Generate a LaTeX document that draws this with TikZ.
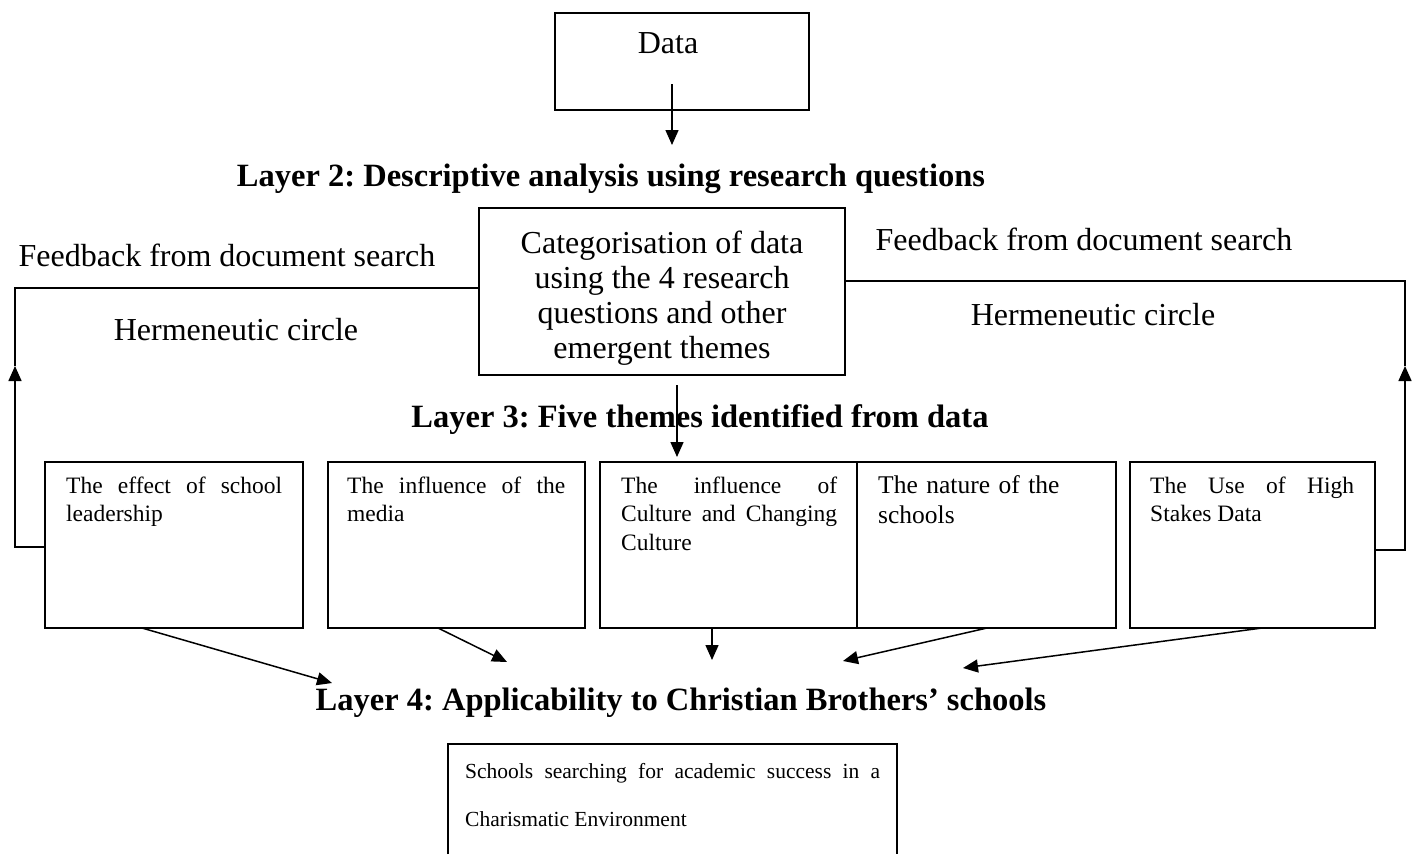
\documentclass[tikz,border=0pt]{standalone}
\usepackage{fontspec}
\setmainfont{Liberation Serif}
\usetikzlibrary{arrows.meta}
\frenchspacing
\hyphenpenalty=10000
\exhyphenpenalty=10000
\tolerance=10000
\begin{document}
\begin{tikzpicture}[x=1pt,y=-1pt,
  ln/.style={line width=1.5pt},
  box/.style={draw, line width=1.5pt, inner sep=0pt, outer sep=0pt, anchor=north west},
  big/.style={font=\fontsize{32}{36}\selectfont, inner sep=0pt, anchor=base},
  layer/.style={font=\bfseries\fontsize{32.5}{36}\selectfont, inner sep=0pt, anchor=base},
  theme/.style={font=\fontsize{23.5}{28.5}\selectfont, inner sep=0pt, anchor=base west, align=justify},
  arr/.style={line width=1.5pt, -{Triangle[length=15pt,width=13pt]}}]
\useasboundingbox (0,0) rectangle (1415,854);

% top box
\node[box, minimum width=254pt, minimum height=97pt] (data) at (555,13) {};
\node[big] (datatxt) at (668,53) {Data};
\coordinate (d0) at (672,84);
\coordinate (d1) at (672,145);
\draw[arr] (d0) -- (d1);

\node[layer] (l2) at (611,186) {Layer 2: Descriptive analysis using research questions};

% middle box
\node[box, minimum width=366pt, minimum height=167pt] (mid) at (479,208) {};
\node[big, anchor=center, align=center, font=\fontsize{32}{35}\selectfont] (midtxt) at (662,298) {Categorisation of data\\using the 4 research\\questions and other\\emergent themes};

\node[big] (fbl) at (227,266) {Feedback from document search};
\node[big] (fbr) at (1084,250) {Feedback from document search};
\node[big] (hcl) at (236,340) {Hermeneutic circle};
\node[big] (hcr) at (1093,325) {Hermeneutic circle};

\node[layer] (l3) at (700,427) {Layer 3: Five themes identified from data};
\coordinate (m0) at (677,385);
\coordinate (m1) at (677,457);
\draw[arr] (m0) -- (m1);

% theme boxes
\node[box, minimum width=258pt, minimum height=166pt] (t1) at (45,462) {};
\node[box, minimum width=257pt, minimum height=166pt] (t2) at (328,462) {};
\node[box, minimum width=257pt, minimum height=166pt] (t3) at (600,462) {};
\node[box, minimum width=259pt, minimum height=166pt] (t4) at (857,462) {};
\node[box, minimum width=245pt, minimum height=166pt] (t5) at (1130,462) {};

\node[theme, text width=216pt] (t1txt) at (66,493) {The effect of school leadership};
\node[theme, text width=218pt] (t2txt) at (347,493) {The influence of the media};
\node[theme, text width=216pt] (t3txt) at (621,493) {The influence of Culture and Changing Culture};
\node[theme, text width=225pt, align=left, font=\fontsize{25.5}{30.5}\selectfont] (t4txt) at (878,493) {The nature of the schools};
\node[theme, text width=204pt] (t5txt) at (1150,493) {The Use of High Stakes Data};

% feedback loops
\coordinate (lb) at (15,288);
\coordinate (lc) at (15,366);
\coordinate (ld) at (15,547);
\draw[arr] (t1.west |- ld) -- (ld) -- (lc);
\draw[ln] (lc) -- (lb) -- (mid.west |- lb);

\coordinate (rb) at (1405,281);
\coordinate (rc) at (1405,366);
\coordinate (rd) at (1405,550);
\draw[arr] (t5.east |- rd) -- (rd) -- (rc);
\draw[ln] (rc) -- (rb) -- (mid.east |- rb);

% layer 4
\node[layer] (l4) at (681,710) {Layer 4: Applicability to Christian Brothers’ schools};
\coordinate (a1) at (332,683);
\coordinate (a2) at (507,662);
\coordinate (a3) at (712,660);
\coordinate (a4) at (843,661);
\coordinate (a5) at (963,668);
\draw[arr] (t1.south -| 142,0) -- (a1);
\draw[arr] (t2.south -| 438,0) -- (a2);
\draw[arr] (t3.south -| 712,0) -- (a3);
\draw[arr] (t4.south -| 987,0) -- (a4);
\draw[arr] (t5.south -| 1262,0) -- (a5);

% bottom box
\node[inner sep=0pt, outer sep=0pt, minimum width=449pt, minimum height=110pt, anchor=north west] (bb) at (448,744) {};
\draw[ln] (bb.south west) -- (bb.north west) -- (bb.north east) -- (bb.south east);
\node[theme, text width=415pt, font=\fontsize{21.5}{48}\selectfont] (bbtxt) at (465,778) {Schools searching for academic success in a Charismatic Environment};
\end{tikzpicture}
\end{document}
